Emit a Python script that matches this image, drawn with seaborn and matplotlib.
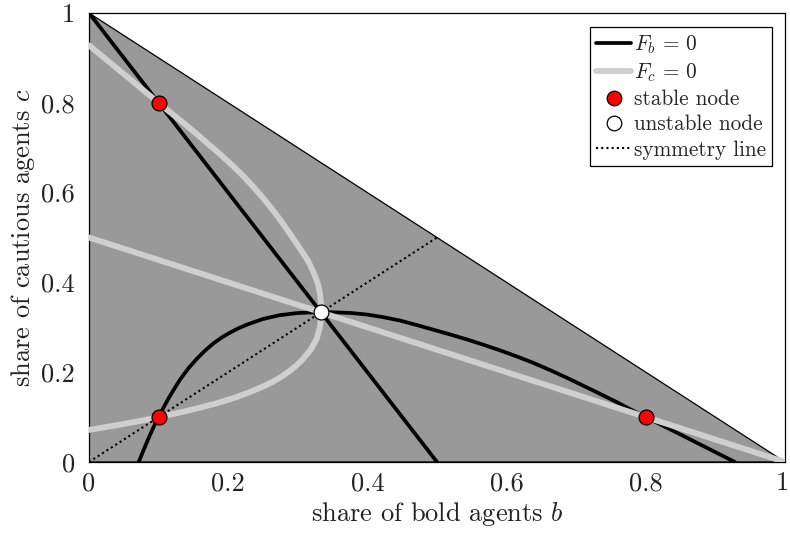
import matplotlib
matplotlib.use("Agg")
import matplotlib.pyplot as plt
import matplotlib.transforms as mtransforms
import seaborn as sns
from matplotlib.lines import Line2D

# Corners of the simplex b + c <= 1
simplex_b = [0.0, 1.0, 0.0]
simplex_c = [0.0, 0.0, 1.0]

# F_b = 0 nullcline: straight branch and curved branch
fb_line_b = [0.0, 0.5]
fb_line_c = [1.0, 0.0]
fb_curve_b = [0.0715, 0.0785, 0.0855, 0.0925, 0.100, 0.107, 0.114, 0.1225,
              0.131, 0.143, 0.155, 0.167, 0.179, 0.191, 0.203, 0.215, 0.227,
              0.250, 0.274, 0.298, 0.316, 0.333, 0.350, 0.375, 0.399, 0.423,
              0.447, 0.471, 0.495, 0.519, 0.543, 0.567, 0.590, 0.614, 0.638,
              0.662, 0.686, 0.710, 0.734, 0.758, 0.782, 0.800, 0.827, 0.854,
              0.891, 0.928]
fb_curve_c = [0.000, 0.027, 0.0525, 0.077, 0.100, 0.121, 0.141, 0.163,
              0.184, 0.209, 0.230, 0.2485, 0.2645, 0.2775, 0.2885, 0.298, 0.306,
              0.3185, 0.327, 0.3315, 0.333, 0.3333, 0.3335, 0.332, 0.3285, 0.3225,
              0.315, 0.305, 0.2945, 0.284, 0.273, 0.261, 0.249, 0.2355, 0.221,
              0.205, 0.188, 0.170, 0.152, 0.1335, 0.114, 0.100, 0.079, 0.058,
              0.029, 0.000]

# F_c = 0 nullcline is the mirror image of F_b = 0 under b <-> c
fc_line_b, fc_line_c = fb_line_c, fb_line_b
fc_curve_b, fc_curve_c = fb_curve_c, fb_curve_b

# Equilibria
stable_b = [0.1, 0.1, 0.8]
stable_c = [0.8, 0.1, 0.1]
unstable_b = [1 / 3]
unstable_c = [1 / 3]

# Symmetry line b = c inside the simplex
sym_b = [0.0, 0.5]
sym_c = [0.0, 0.5]

xticks = [0, 0.2, 0.4, 0.6, 0.8, 1]
yticks = [0, 0.2, 0.4, 0.6, 0.8, 1]
xtick_labels = ["0", "0.2", "0.4", "0.6", "0.8", "1"]
ytick_labels = ["0", "0.2", "0.4", "0.6", "0.8", "1"]

sns.set_style("white")
plt.rcParams["font.family"] = ["cmr10", "DejaVu Serif"]
plt.rcParams["mathtext.fontset"] = "cm"
plt.rcParams["axes.formatter.use_mathtext"] = True

fig = plt.figure(figsize=(7.9, 5.33), dpi=100)
ax = fig.add_axes([89 / 790, 1 - 462 / 533, 696 / 790, 449 / 533])

ax.fill(simplex_b, simplex_c, facecolor="#999999", edgecolor="black",
        linewidth=0.9, zorder=1)

black = "black"
grey = "#cfcfcf"
lw_b = 2.7
lw_c = 4.2
dots = (0, (1, 1.5))

sns.lineplot(x=fb_line_b, y=fb_line_c, sort=False, estimator=None,
             color=black, linewidth=lw_b, ax=ax, zorder=3)
sns.lineplot(x=fb_curve_b, y=fb_curve_c, sort=False, estimator=None,
             color=black, linewidth=lw_b, ax=ax, zorder=3)
sns.lineplot(x=fc_line_b, y=fc_line_c, sort=False, estimator=None,
             color=grey, linewidth=lw_c, ax=ax, zorder=4)
sns.lineplot(x=fc_curve_b, y=fc_curve_c, sort=False, estimator=None,
             color=grey, linewidth=lw_c, ax=ax, zorder=4)
sns.lineplot(x=sym_b, y=sym_c, sort=False, estimator=None,
             color=black, linewidth=1.5, linestyle=dots, ax=ax, zorder=5)

sns.scatterplot(x=stable_b, y=stable_c, color="red", edgecolor="black",
                linewidth=0.9, s=115, ax=ax, zorder=6)
sns.scatterplot(x=unstable_b, y=unstable_c, color="white", edgecolor="black",
                linewidth=0.9, s=115, ax=ax, zorder=6)

ax.set_xlim(0, 1)
ax.set_ylim(0, 1)
ax.set_xticks(xticks)
ax.set_xticklabels(xtick_labels)
ax.set_yticks(yticks)
ax.set_yticklabels(ytick_labels)
ax.tick_params(axis="x", length=0, labelsize=19, pad=7, colors="#222222")
ax.tick_params(axis="y", length=0, labelsize=19, pad=10, colors="#222222")
for s in ax.spines.values():
    s.set_visible(True)
    s.set_color("black")
    s.set_linewidth(0.9)

# keep the rightmost tick label inside the canvas
last = ax.get_xticklabels()[-1]
last.set_transform(last.get_transform() +
                   mtransforms.ScaledTranslation(-3 / 100, 0, fig.dpi_scale_trans))

ax.set_xlabel(r"share of bold agents $b$", fontsize=19, color="#222222", labelpad=3)
ax.set_ylabel(r"share of cautious agents $c$", fontsize=19, color="#222222", labelpad=3)

handles = [
    Line2D([], [], color=black, linewidth=lw_b),
    Line2D([], [], color=grey, linewidth=lw_c),
    Line2D([], [], linestyle="none", marker="o", markersize=10.5,
           markerfacecolor="red", markeredgecolor="black", markeredgewidth=0.9),
    Line2D([], [], linestyle="none", marker="o", markersize=10.5,
           markerfacecolor="white", markeredgecolor="black", markeredgewidth=0.9),
    Line2D([], [], color=black, linewidth=1.5, linestyle=dots),
]
labels = [r"$F_b\,=\,0$", r"$F_c\,=\,0$", "stable node", "unstable node",
          "symmetry line"]
leg = ax.legend(handles, labels, loc="upper right",
                bbox_to_anchor=(772 / 790, 1 - 27 / 533),
                bbox_transform=fig.transFigure, borderaxespad=0,
                fontsize=15.3, frameon=True, fancybox=False, edgecolor="black",
                handlelength=1.65, handletextpad=0.12, borderpad=0.28,
                labelspacing=0.27, framealpha=1)
leg.get_frame().set_linewidth(0.9)

fig.savefig("out.png", dpi=100)
